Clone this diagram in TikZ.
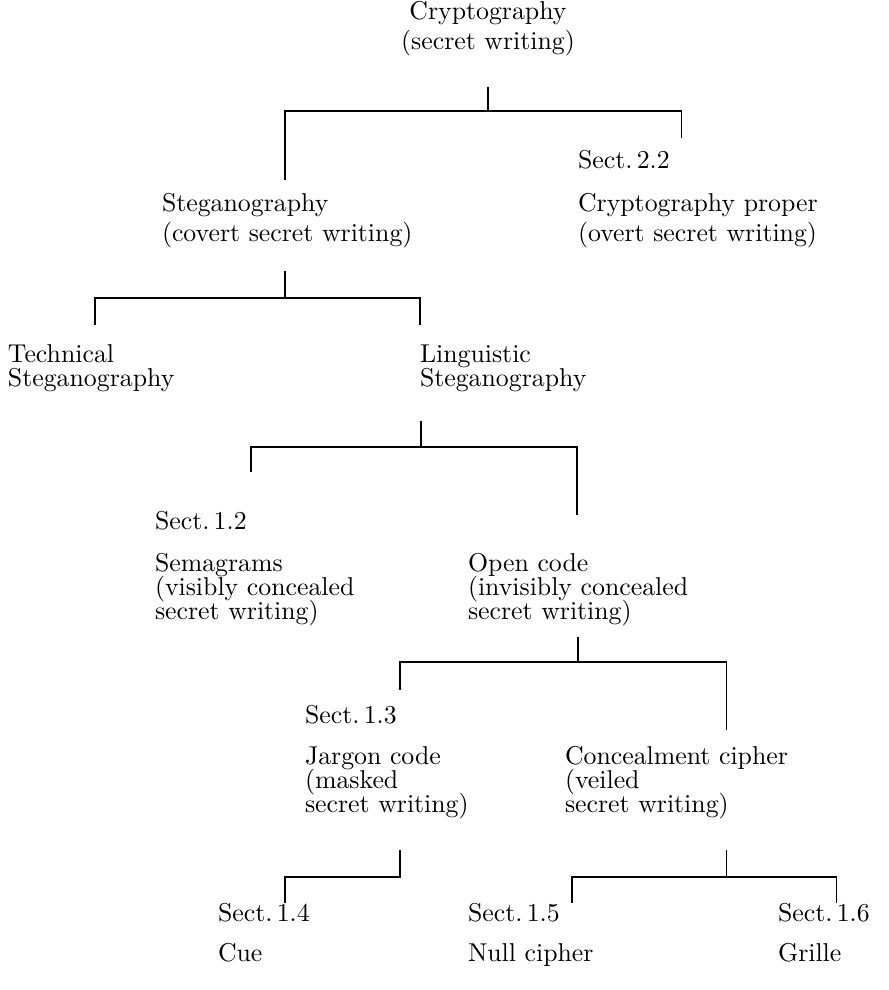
\documentclass[tikz,border=0pt]{standalone}
\begin{document}
\begin{tikzpicture}[x=0.3876pt, y=-0.3876pt,
  lbl/.style={anchor=base west, inner sep=0pt, outer sep=0pt},
  ctr/.style={anchor=base, inner sep=0pt, outer sep=0pt},
  barline/.style={line width=0.75pt, line cap=rect},
  legline/.style={line width=0.4pt}]
\useasboundingbox (0,0) rectangle (888,990);
% ---------- texts ----------
\node[ctr] (crypto1) at (488,20) {Cryptography};
\node[ctr] (crypto2) at (488,50) {(secret writing)};
\node[lbl] (s22) at (578,169) {Sect.\,2.2};
\node[lbl] (cp1) at (578,212) {Cryptography proper};
\node[lbl] (cp2) at (578,242) {(overt secret writing)};
\node[lbl] (st1) at (162,212) {Steganography};
\node[lbl] (st2) at (162,242) {(covert secret writing)};
\node[lbl] (te1) at (8,363) {Technical};
\node[lbl] (te2) at (8,387) {Steganography};
\node[lbl] (li1) at (420,363) {Linguistic};
\node[lbl] (li2) at (420,387) {Steganography};
\node[lbl] (s12) at (155,529) {Sect.\,1.2};
\node[lbl] (se1) at (155,571) {Semagrams};
\node[lbl] (se2) at (155,595) {(visibly concealed};
\node[lbl] (se3) at (155,619) {secret writing)};
\node[lbl] (oc1) at (468,571) {Open code};
\node[lbl] (oc2) at (468,595) {(invisibly concealed};
\node[lbl] (oc3) at (468,619) {secret writing)};
\node[lbl] (s13) at (305,723) {Sect.\,1.3};
\node[lbl] (ja1) at (305,764) {Jargon code};
\node[lbl] (ja2) at (305,788) {(masked};
\node[lbl] (ja3) at (305,812) {secret writing)};
\node[lbl] (cc1) at (565,764) {Concealment cipher};
\node[lbl] (cc2) at (565,788) {(veiled};
\node[lbl] (cc3) at (565,812) {secret writing)};
\node[lbl] (s14) at (218,921) {Sect.\,1.4};
\node[lbl] (cue) at (218,961) {Cue};
\node[lbl] (s15) at (468,921) {Sect.\,1.5};
\node[lbl] (nul) at (468,961) {Null cipher};
\node[lbl] (s16) at (778,921) {Sect.\,1.6};
\node[lbl] (gri) at (778,961) {Grille};
% ---------- bracket coordinates ----------
% root
\coordinate (rt) at (488,87);  \coordinate (rm) at (488,111);
\coordinate (rl) at (285,111); \coordinate (rr) at (681,111);
\coordinate (rle) at (285,180); \coordinate (rre) at (681,138);
% steganography
\coordinate (gt) at (285,271); \coordinate (gm) at (285,298);
\coordinate (gl) at (95,298);  \coordinate (gr) at (420,298);
\coordinate (gle) at (95,325); \coordinate (gre) at (420,325);
% linguistic
\coordinate (lt) at (421,421); \coordinate (lm) at (421,447);
\coordinate (ll) at (251,447); \coordinate (lr) at (577,447);
\coordinate (lle) at (251,472); \coordinate (lre) at (577,515);
% open code
\coordinate (ot) at (578,637); \coordinate (om) at (578,662);
\coordinate (ol) at (400,662); \coordinate (or) at (726,662);
\coordinate (ole) at (400,690); \coordinate (ore) at (726,730);
% jargon
\coordinate (jt) at (400,850); \coordinate (jm) at (400,877);
\coordinate (jl) at (285,877);
\coordinate (jle) at (285,903);
% concealment
\coordinate (ct) at (726,850); \coordinate (cm) at (726,877);
\coordinate (cl) at (572,877); \coordinate (cr) at (836,877);
\coordinate (cle) at (572,903); \coordinate (cre) at (836,903);
% ---------- connectors ----------
\draw[legline] (rt) -- (rm);
\draw[barline] (rl) -- (rr);
\draw[legline] (rl) -- (rle);
\draw[legline] (rr) -- (rre);
\draw[legline] (gt) -- (gm);
\draw[barline] (gl) -- (gr);
\draw[legline] (gl) -- (gle);
\draw[legline] (gr) -- (gre);
\draw[legline] (lt) -- (lm);
\draw[barline] (ll) -- (lr);
\draw[legline] (ll) -- (lle);
\draw[legline] (lr) -- (lre);
\draw[legline] (ot) -- (om);
\draw[barline] (ol) -- (or);
\draw[legline] (ol) -- (ole);
\draw[legline] (or) -- (ore);
\draw[legline] (jt) -- (jm);
\draw[barline] (jl) -- (jm);
\draw[legline] (jl) -- (jle);
\draw[legline] (ct) -- (cm);
\draw[barline] (cl) -- (cr);
\draw[legline] (cl) -- (cle);
\draw[legline] (cr) -- (cre);
\end{tikzpicture}
\end{document}
